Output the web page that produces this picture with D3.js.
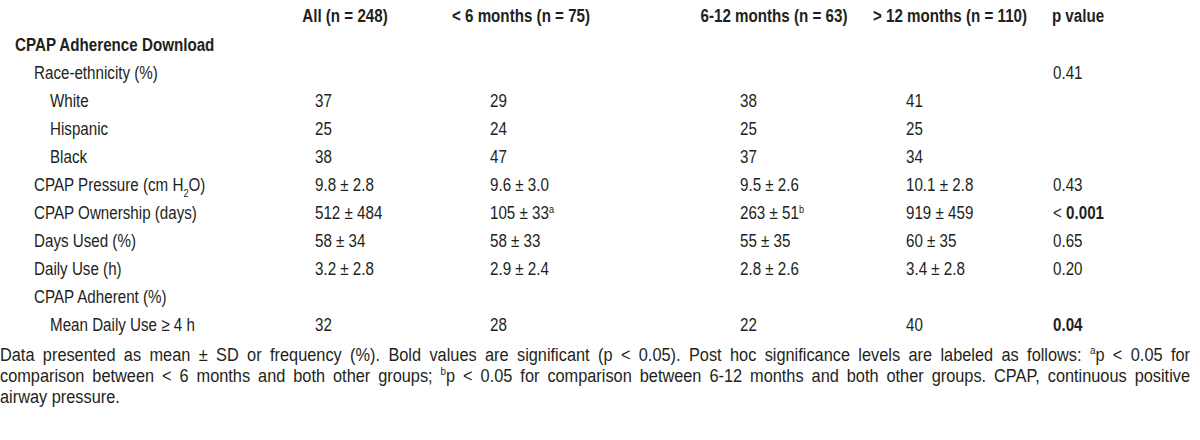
<!DOCTYPE html>
<html>
<head>
<meta charset="utf-8">
<script src="https://cdn.jsdelivr.net/npm/d3@7"></script>
<style>
  html, body { margin: 0; padding: 0; background: #fff; }
  svg { display: block; }
  text { font-family: "Liberation Sans Narrow", "Arial Narrow", "Liberation Sans", Arial, sans-serif; fill: #231f20; }
</style>
</head>
<body>
<svg id="chart" width="1200" height="440"></svg>
<script>
// ---------- DATA ----------
const columns = ["All (n = 248)", "< 6 months (n = 75)", "6-12 months (n = 63)", "> 12 months (n = 110)", "p value"];
const rowLabels = ["CPAP Adherence Download", "Race-ethnicity (%)", "White", "Hispanic", "Black",
  "CPAP Pressure (cm H_2O)", "CPAP Ownership (days)", "Days Used (%)", "Daily Use (h)",
  "CPAP Adherent (%)", "Mean Daily Use ≥ 4 h"];
const rowLevel = [0, 1, 2, 2, 2, 1, 1, 1, 1, 1, 2];
const valuesAll    = ["", "", "37", "25", "38", "9.8 ± 2.8", "512 ± 484", "58 ± 34", "3.2 ± 2.8", "", "32"];
const valuesUnder6 = ["", "", "29", "24", "47", "9.6 ± 3.0", "105 ± 33^a", "58 ± 33", "2.9 ± 2.4", "", "28"];
const values6to12  = ["", "", "38", "25", "37", "9.5 ± 2.6", "263 ± 51^b", "55 ± 35", "2.8 ± 2.6", "", "22"];
const valuesOver12 = ["", "", "41", "25", "34", "10.1 ± 2.8", "919 ± 459", "60 ± 35", "3.4 ± 2.8", "", "40"];
const pValues      = ["", "0.41", "", "", "", "0.43", "< *0.001*", "0.65", "0.20", "", "*0.04*"];
const footnoteLines = [
  "Data presented as mean ± SD or frequency (%). Bold values are significant (p < 0.05). Post hoc significance levels are labeled as follows: ^ap < 0.05 for",
  "comparison between < 6 months and both other groups; ^bp < 0.05 for comparison between 6-12 months and both other groups. CPAP, continuous positive",
  "airway pressure."
];
const valueColumns = [valuesAll, valuesUnder6, values6to12, valuesOver12, pValues];

// ---------- LAYOUT ----------
const svg = d3.select("#chart");
const fs = 18.5;          // table font size
const ffs = 19;           // footnote font size
const sx = 0.82;          // horizontal condensing (Arial Narrow look)
const fsx = 0.86;         // footnote condensing
const headerX = d3.scaleOrdinal().domain(columns).range([345, 521, 774, 950, 1078]);
const valueX = d3.scaleOrdinal().domain(columns).range([315, 490, 740, 906, 1053]);
const indentX = d3.scaleOrdinal().domain([0, 1, 2]).range([15, 34, 50]);
const rowY = d3.scalePoint().domain(d3.range(rowLabels.length)).range([51, 331]);
const footY = d3.scalePoint().domain(d3.range(footnoteLines.length)).range([361, 403]);
const place = (x, y, k = sx) => `translate(${x},${y}) scale(${k},1)`;

// rich text: ^x superscript, _x subscript, *...* bold
function rich(sel, str, size) {
  const re = /(\^[a-z])|(_[0-9])|(\*[^*]+\*)|([^\^_*]+)/g;
  let m;
  let shifted = 0;
  while ((m = re.exec(str)) !== null) {
    if (m[1]) {
      sel.append("tspan").attr("font-size", size * 0.6).attr("dy", -size * 0.35).text(m[1].slice(1));
      shifted = -size * 0.35;
    } else if (m[2]) {
      sel.append("tspan").attr("font-size", size * 0.6).attr("dy", size * 0.3).text(m[2].slice(1));
      shifted = size * 0.3;
    } else {
      const t = sel.append("tspan").text(m[3] ? m[3].slice(1, -1) : m[4]);
      if (m[3]) t.attr("font-weight", "bold");
      if (shifted) { t.attr("dy", -shifted); shifted = 0; }
    }
  }
}

// header
svg.append("g").selectAll("text").data(columns).join("text")
  .attr("transform", d => place(headerX(d), 22))
  .attr("text-anchor", "middle").attr("font-weight", "bold").attr("font-size", fs)
  .text(d => d);

// row labels
svg.append("g").selectAll("text").data(rowLabels).join("text")
  .attr("transform", (d, i) => place(indentX(rowLevel[i]), rowY(i)))
  .attr("font-size", fs)
  .attr("font-weight", (d, i) => rowLevel[i] === 0 ? "bold" : "normal")
  .each(function(d) { rich(d3.select(this), d, fs); });

// values
columns.forEach((c, ci) => {
  svg.append("g").selectAll("text").data(valueColumns[ci]).join("text")
    .attr("transform", (d, i) => place(valueX(c), rowY(i)))
    .attr("font-size", fs)
    .each(function(d) { if (d) rich(d3.select(this), d, fs); });
});

// footnote (justified lines via word spacing)
const fullWidth = 1190;
svg.append("g").selectAll("text").data(footnoteLines).join("text")
  .attr("transform", (d, i) => place(0, footY(i), fsx))
  .attr("font-size", ffs)
  .each(function(d, i) {
    const s = d3.select(this);
    rich(s, d, ffs);
    if (i < footnoteLines.length - 1) {
      const natural = this.getComputedTextLength();
      const spaces = (d.match(/ /g) || []).length;
      const ws = (fullWidth / fsx - natural) / spaces;
      s.style("word-spacing", ws + "px");
    }
  });
</script>
</body>
</html>
